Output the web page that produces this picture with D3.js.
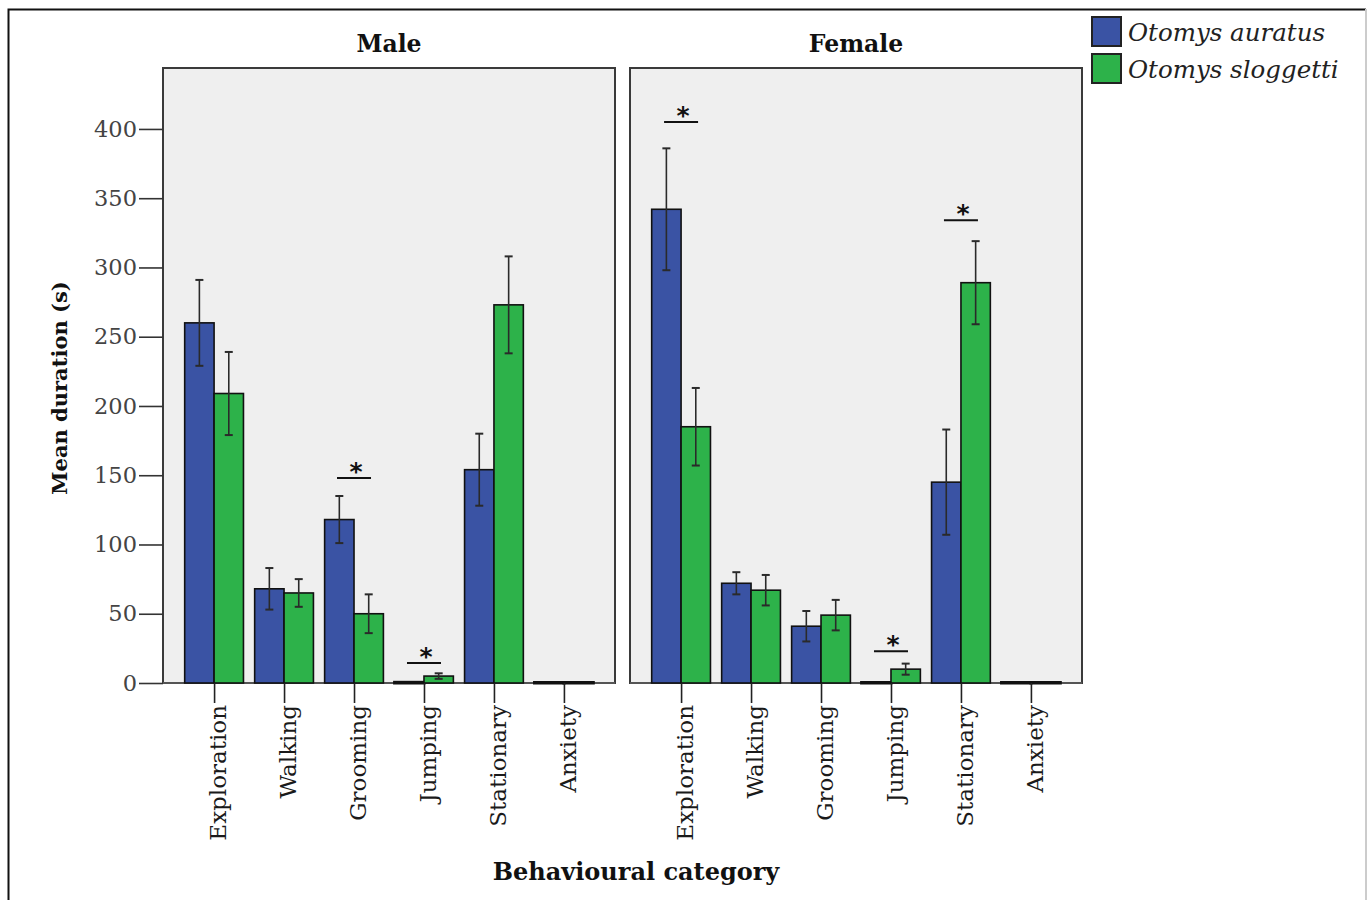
<!DOCTYPE html>
<html>
<head>
<meta charset="utf-8">
<script src="https://cdn.jsdelivr.net/npm/d3@7"></script>
<style>
  html, body { margin: 0; padding: 0; background: #fff; }
  svg { display: block; }
</style>
</head>
<body>
<svg id="chart" width="1368" height="900"></svg>
<script>
// ---------- data ----------
const categories = ["Exploration", "Walking", "Grooming", "Jumping", "Stationary", "Anxiety"];
const panels = ["Male", "Female"];
const species = ["Otomys auratus", "Otomys sloggetti"];

const maleAuratus      = [260, 68, 118, 0.5, 154, 0];
const maleAuratusSE    = [31, 15, 17, 0, 26, 0];
const maleSloggetti    = [209, 65, 50, 5, 273, 0];
const maleSloggettiSE  = [30, 10, 14, 2, 35, 0];
const femaleAuratus     = [342, 72, 41, 0, 145, 0];
const femaleAuratusSE   = [44, 8, 11, 0, 38, 0];
const femaleSloggetti   = [185, 67, 49, 10, 289, 0];
const femaleSloggettiSE = [28, 11, 11, 4, 30, 0];

const yTicks = [0, 50, 100, 150, 200, 250, 300, 350, 400];

// significance markers
const sigPanel    = ["Male", "Male", "Female", "Female", "Female"];
const sigCategory = ["Grooming", "Jumping", "Exploration", "Jumping", "Stationary"];
const sigHeight   = [148, 14.5, 405, 23, 334];

const colors = ["#3a53a4", "#2db24a"];

// ---------- build ----------
const seriesByPanel = {
  Male:   [{ v: maleAuratus, se: maleAuratusSE }, { v: maleSloggetti, se: maleSloggettiSE }],
  Female: [{ v: femaleAuratus, se: femaleAuratusSE }, { v: femaleSloggetti, se: femaleSloggettiSE }]
};

const svg = d3.select("#chart");
const serif = "'DejaVu Serif', serif";

// outer frame
svg.append("path").attr("d", "M8.5,900 V9.5 H1366").attr("fill", "none").attr("stroke", "#111").attr("stroke-width", 2);
svg.append("line").attr("x1", 1366).attr("x2", 1366).attr("y1", 9).attr("y2", 900).attr("stroke", "#ccc").attr("stroke-width", 2);

const y = d3.scaleLinear().domain([0, 444]).range([683, 68]);

const panelX = { Male: [163, 615], Female: [630, 1082] };

panels.forEach(p => {
  const [x0, x1] = panelX[p];
  const x = d3.scalePoint().domain(categories).range([x0, x1]).padding(0.73);
  const step = x.step();
  const bw = step * 0.42;

  const g = svg.append("g");
  g.append("rect").attr("x", x0).attr("y", 68).attr("width", x1 - x0).attr("height", 683 - 68)
    .attr("fill", "#efefef").attr("stroke", "#3a3a3a").attr("stroke-width", 2);

  // baseline
  g.append("line").attr("x1", x0).attr("x2", x1).attr("y1", y(0)).attr("y2", y(0))
    .attr("stroke", "#555").attr("stroke-width", 2);

  // bars
  seriesByPanel[p].forEach((s, si) => {
    g.selectAll(null).data(categories).enter().append("rect")
      .attr("x", c => x(c) - bw + si * bw)
      .attr("y", (c, i) => Math.min(y(s.v[i]), y(0) - 0.5))
      .attr("width", bw)
      .attr("height", (c, i) => Math.max(y(0) - y(s.v[i]), 0.5))
      .attr("fill", colors[si])
      .attr("stroke", "#111")
      .attr("stroke-width", (c, i) => s.v[i] < 1 ? 3 : 1.6);
  });

  // error bars
  seriesByPanel[p].forEach((s, si) => {
    const eb = g.selectAll(null).data(categories.map((c, i) => ({ c, i })).filter(d => s.se[d.i] > 0))
      .enter().append("g");
    const cx = d => x(d.c) - bw / 2 + si * bw;
    eb.append("line").attr("x1", cx).attr("x2", cx)
      .attr("y1", d => y(s.v[d.i] + s.se[d.i])).attr("y2", d => y(s.v[d.i] - s.se[d.i]))
      .attr("stroke", "#2a2a2a").attr("stroke-width", 1.6);
    [1, -1].forEach(sign => {
      eb.append("line").attr("x1", d => cx(d) - 4).attr("x2", d => cx(d) + 4)
        .attr("y1", d => y(s.v[d.i] + sign * s.se[d.i])).attr("y2", d => y(s.v[d.i] + sign * s.se[d.i]))
        .attr("stroke", "#2a2a2a").attr("stroke-width", 2);
    });
  });

  // x axis
  const xAxis = d3.axisBottom(x).tickSize(20).tickSizeOuter(0).tickPadding(0);
  const ax = g.append("g").attr("transform", `translate(0,${y(0)})`).call(xAxis);
  ax.select(".domain").remove();
  ax.selectAll(".tick line").attr("stroke", "#222").attr("stroke-width", 1.6);
  ax.selectAll(".tick text")
    .attr("transform", "translate(1,22) rotate(-90)")
    .attr("text-anchor", "end")
    .attr("x", 0).attr("y", 0).attr("dy", "0.45em")
    .attr("font-family", serif).attr("font-size", 23).attr("fill", "#1a1a1a");

  // panel title
  svg.append("text").attr("x", (x0 + x1) / 2).attr("y", 52).attr("text-anchor", "middle")
    .attr("font-family", serif).attr("font-weight", "bold").attr("font-size", 23.5).attr("fill", "#111")
    .text(p);

  // significance
  sigPanel.forEach((sp, k) => {
    if (sp !== p) return;
    const cxm = x(sigCategory[k]);
    const yy = y(sigHeight[k]);
    g.append("line").attr("x1", cxm - 17).attr("x2", cxm + 17).attr("y1", yy).attr("y2", yy)
      .attr("stroke", "#111").attr("stroke-width", 2);
    g.append("text").attr("x", cxm + 2).attr("y", yy + 2).attr("text-anchor", "middle")
      .attr("font-family", "'DejaVu Sans', sans-serif").attr("font-weight", "bold").attr("font-size", 25).attr("fill", "#111")
      .text("*");
  });
});

// y axis
const yAxis = d3.axisLeft(y).tickValues(yTicks).tickSize(24).tickSizeOuter(0).tickPadding(2);
const yg = svg.append("g").attr("transform", "translate(163,0)").call(yAxis);
yg.select(".domain").remove();
yg.selectAll(".tick line").attr("stroke", "#333").attr("stroke-width", 1.6);
yg.selectAll(".tick text").attr("font-family", serif).attr("font-size", 22.5).attr("fill", "#444");

// y label
svg.append("text").attr("transform", "translate(67,388) rotate(-90)").attr("text-anchor", "middle")
  .attr("font-family", serif).attr("font-weight", "bold").attr("font-size", 21).attr("fill", "#111")
  .text("Mean duration (s)");

// x label
svg.append("text").attr("x", 636).attr("y", 880).attr("text-anchor", "middle")
  .attr("font-family", serif).attr("font-weight", "bold").attr("font-size", 24).attr("fill", "#111")
  .text("Behavioural category");

// legend
const lg = svg.append("g").attr("transform", "translate(1092,17)");
species.forEach((s, i) => {
  lg.append("rect").attr("x", 0).attr("y", i * 37).attr("width", 29).attr("height", 29)
    .attr("fill", colors[i]).attr("stroke", "#222").attr("stroke-width", 2);
  lg.append("text").attr("x", 36).attr("y", i * 37 + 24)
    .attr("font-family", serif).attr("font-style", "italic").attr("font-size", 24.5).attr("fill", "#222")
    .text(s);
});
</script>
</body>
</html>
